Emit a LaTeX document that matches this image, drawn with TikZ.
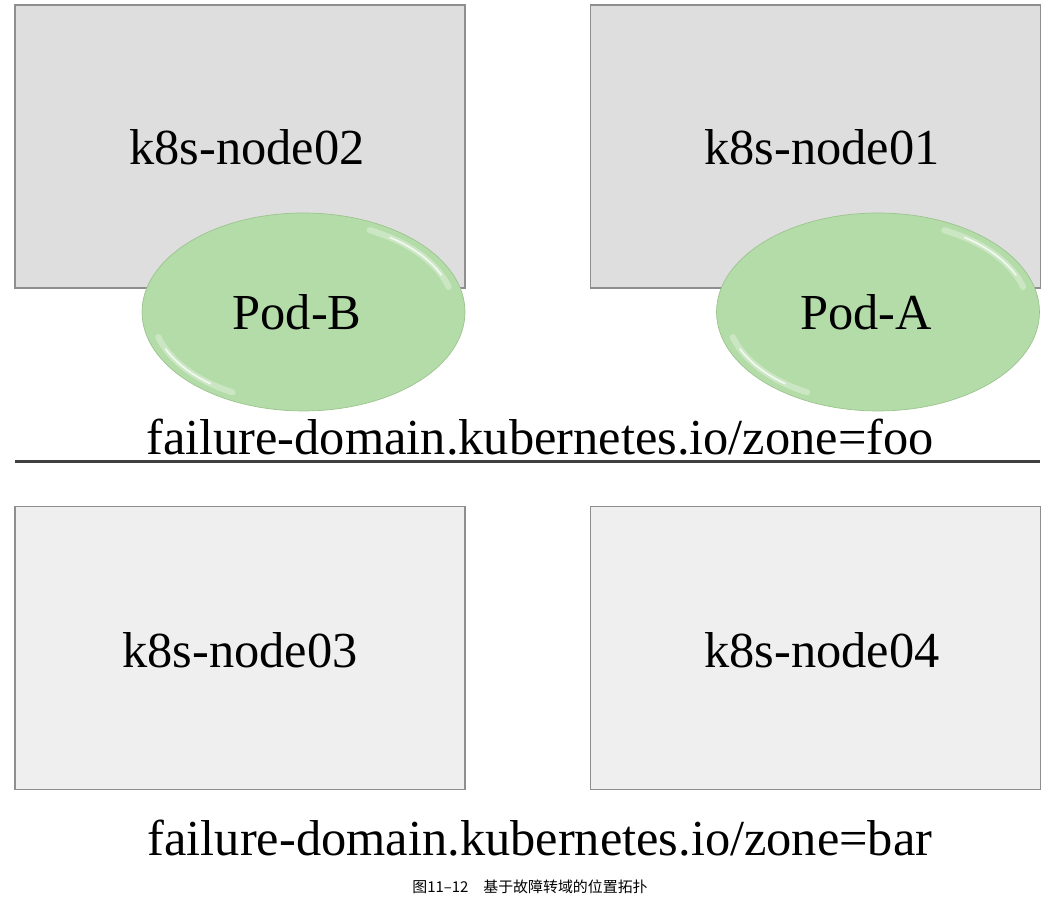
\documentclass[tikz,border=0pt]{standalone}
\usepackage{fontspec}
\setmainfont{Liberation Serif}
\newfontfamily\cjk{Noto Sans CJK SC}
\usetikzlibrary{shapes.geometric}
\definecolor{boxtop}{HTML}{DEDEDE}
\definecolor{boxbottom}{HTML}{EFEFEF}
\definecolor{boxline}{HTML}{8E8E8E}
\definecolor{podgreen}{HTML}{B4DCA8}
\definecolor{podline}{HTML}{9CC48F}
\tikzset{
  nodebox/.style={rectangle, draw=boxline, line width=1pt, minimum width=9cm,
    minimum height=5.66cm, inner sep=0pt},
  podshape/.style={ellipse, fill=podgreen, draw=podline, line width=0.4pt,
    minimum width=6.46cm, minimum height=3.96cm, inner sep=0pt},
  bigtext/.style={font=\fontsize{28.7}{34}\selectfont, inner sep=0pt},
  gloss/.style={white, line cap=round}
}
\begin{document}
\begin{tikzpicture}[x=0.02cm, y=0.02cm]
  \useasboundingbox (0,0) rectangle (1054,898);
  \node[nodebox, fill=boxtop] (n02) at (240,751.5) {};
  \node[nodebox, fill=boxtop] (n01) at (815.5,751.5) {};
  \node[bigtext] (t02) at (247,751) {k8s-node02};
  \node[bigtext] (t01) at (822,751) {k8s-node01};
  \node[podshape] (podb) at (303.5,586) {};
  \node[podshape] (poda) at (878,586) {};
  \foreach \p in {podb,poda}{
    \draw[gloss, opacity=.3, line width=3.5pt] (\p.center) ++(16:3.02cm and 1.82cm)
      arc[start angle=16, end angle=64, x radius=3.02cm, y radius=1.82cm];
    \draw[gloss, opacity=.75, line width=1pt] (\p.center) ++(24:3.02cm and 1.82cm)
      arc[start angle=24, end angle=55, x radius=3.02cm, y radius=1.82cm];
    \draw[gloss, opacity=.3, line width=3.5pt] (\p.center) ++(196:3.02cm and 1.82cm)
      arc[start angle=196, end angle=242, x radius=3.02cm, y radius=1.82cm];
    \draw[gloss, opacity=.75, line width=1pt] (\p.center) ++(204:3.02cm and 1.82cm)
      arc[start angle=204, end angle=232, x radius=3.02cm, y radius=1.82cm];
  }
  \node[bigtext] (tpb) at (297,586) {Pod-B};
  \node[bigtext] (tpa) at (866,586) {Pod-A};
  \node[bigtext] (foo) at (540,461) {failure-domain.kubernetes.io/zone=foo};
  \coordinate (sepl) at (15,436);
  \coordinate (sepr) at (1040,436);
  \draw[line width=1.7pt, black!75] (sepl) -- (sepr);
  \node[nodebox, fill=boxbottom] (n03) at (240,250) {};
  \node[nodebox, fill=boxbottom] (n04) at (815.5,250) {};
  \node[bigtext] (t03) at (240,248) {k8s-node03};
  \node[bigtext] (t04) at (822,248) {k8s-node04};
  \node[bigtext] (bar) at (540,60) {failure-domain.kubernetes.io/zone=bar};
  \node[font=\cjk\fontsize{8.5}{10}\selectfont, inner sep=0pt] (cap) at (530,11)
    {图11–12\quad 基于故障转域的位置拓扑};
\end{tikzpicture}
\end{document}
